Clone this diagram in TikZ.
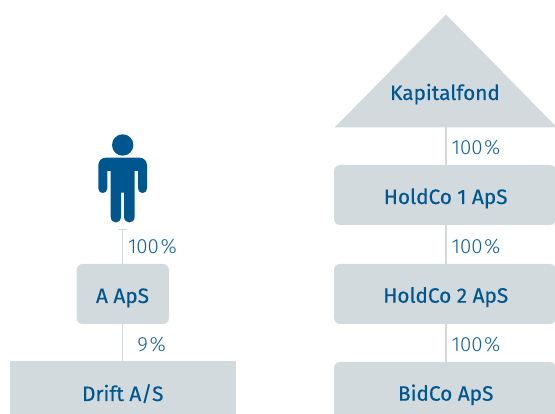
\documentclass[tikz,border=0pt]{standalone}
\usepackage{fontspec}
\setmainfont[FakeBold=0.4]{Fira Sans}
\newfontfamily\lightf{Fira Sans Light}
\definecolor{boxgray}{HTML}{D3DADE}
\definecolor{inkblue}{HTML}{00578F}
\definecolor{pctblue}{HTML}{0F5F96}
\tikzset{
  x=1pt,y=-1pt,
  entity/.style={fill=boxgray,rounded corners=6pt},
  flat/.style={fill=boxgray},
  name text/.style={inner sep=0pt,text=inkblue,font=\bfseries\fontsize{20.8}{24}\selectfont,anchor=base},
  pct/.style={inner sep=0pt,text=pctblue,font=\lightf\fontsize{20.5}{24}\selectfont,anchor=base west},
  link/.style={draw=boxgray,line width=1.6pt},
}
\setmainfont[BoldFont={Fira Sans},BoldFeatures={FakeBold=0.4}]{Fira Sans}
\begin{document}
\begin{tikzpicture}
\useasboundingbox (0,0) rectangle (555,414);
% shapes
\begin{scope}
\clip (0,0) rectangle (555,414);
\fill[flat] (446,14.5) -- (557,127.5) -- (334.5,127.5) -- cycle;
\fill[entity] (334,165) rectangle (556,225);
\fill[entity] (334,264) rectangle (556,324);
\fill[entity] (334,362) rectangle (556,440);
\fill[entity] (76.5,264) rectangle (169,324);
\fill[flat] (10,361) rectangle (236,414);
\end{scope}
% anchors
\coordinate (fondB) at (446,127.5);
\coordinate (h1T) at (446,165);
\coordinate (h1B) at (446,225);
\coordinate (h2T) at (446,264);
\coordinate (h2B) at (446,324);
\coordinate (bidT) at (446,362);
\coordinate (aT) at (122.5,264);
\coordinate (aB) at (122.5,324);
\coordinate (driftT) at (122.5,361);
\coordinate (persB) at (122.5,229.5);
\coordinate (capL) at (118,229.5);
\coordinate (capR) at (127,229.5);
\draw[link] (fondB) -- (h1T);
\draw[link] (h1B) -- (h2T);
\draw[link] (h2B) -- (bidT);
\draw[link] (persB) -- (aT);
\draw[link] (capL) -- (capR);
\draw[link] (aB) -- (driftT);
% person
\fill[inkblue] (122.7,145) circle (10.7);
\fill[inkblue] (106,157.7) -- (139.5,157.7)
  .. controls (144,157.7) and (147,161) .. (147,165.5)
  -- (147,188.5) .. controls (147,194.5) and (138,194.5) .. (138,188.5)
  -- (138,171) -- (134.7,171) -- (134.7,216.5)
  .. controls (134.7,224.5) and (124,224.5) .. (124,216.5)
  -- (124,192.7) -- (121,192.7) -- (121,216.5)
  .. controls (121,224.5) and (110.7,224.5) .. (110.7,216.5)
  -- (110.7,171) -- (107.3,171) -- (107.3,188.5)
  .. controls (107.3,194.5) and (98.3,194.5) .. (98.3,188.5)
  -- (98.3,165.5) .. controls (98.3,161) and (101.5,157.7) .. (106,157.7) -- cycle;
% texts
\node[name text] (tfond) at (445,100) {Kapitalfond};
\node[name text] (th1) at (445.7,204) {HoldCo 1 ApS};
\node[name text] (th2) at (445.7,302.7) {HoldCo 2 ApS};
\node[name text] (tbid) at (445.7,400.7) {BidCo ApS};
\node[name text] (ta) at (122.5,303) {A ApS};
\node[name text] (tdrift) at (122.8,401) {Drift A/S};
\node[pct] (p1) at (451.5,155) {100\kern1.5pt\%};
\node[pct] (p2) at (451.5,253.3) {100\kern1.5pt\%};
\node[pct] (p3) at (451.5,351.7) {100\kern1.5pt\%};
\node[pct] (p4) at (127.8,253.3) {100\kern1.5pt\%};
\node[pct] (p5) at (137.2,352) {9\kern1.5pt\%};
\end{tikzpicture}
\end{document}
